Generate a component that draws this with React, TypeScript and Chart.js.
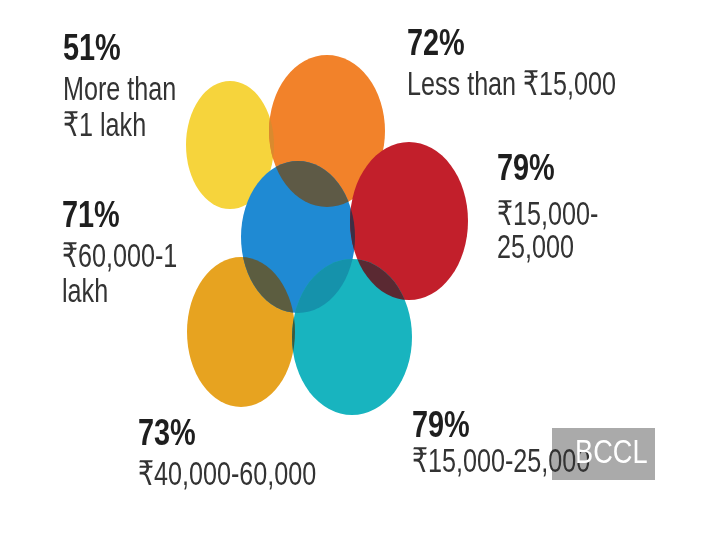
import React, { useEffect, useRef } from "react";
import { Chart, registerables } from "chart.js";

Chart.register(...registerables);

// ---- data ----
const categories = [
  "More than ₹1 lakh",
  "Less than ₹15,000",
  "₹15,000-25,000",
  "₹60,000-1 lakh",
  "₹40,000-60,000",
  "₹15,000-25,000",
];
const percentages = [51, 72, 79, 71, 73, 79];
const labelLines = [
  ["More than", "₹1 lakh"],
  ["Less than ₹15,000"],
  ["₹15,000-", "25,000"],
  ["₹60,000-1", "lakh"],
  ["₹40,000-60,000"],
  ["₹15,000-25,000"],
];
// ellipse geometry in chart units
const centerX = [230, 327, 409, 298, 241, 352];
const centerY = [145, 131, 221, 237, 332, 337];
const radiusX = [44, 58, 59, 57, 54, 60];
const radiusY = [64, 76, 79, 76, 75, 78];

// ---- styles / layout ----
const fillColors = ["#f6d43c", "#f2822a", "#c21f2b", "#1f8ad3", "#e7a320", "#18b4bf"];
const drawOrder = [0, 1, 4, 3, 2, 5];
const overlaps: [number, number, string][] = [
  [0, 1, "#d98a2e"],
  [3, 1, "#5e5a46"],
  [3, 4, "#5c5d40"],
  [3, 5, "#1592ab"],
  [2, 5, "#5a2932"],
  [3, 2, "#3e2f45"],
  [4, 5, "#3d5a3e"],
];
// label positions: x, baseline of percentage, baselines of the text lines
const labelX = [63, 407, 497, 62, 138, 412];
const labelPctY = [60, 55, 180, 227, 445, 437];
const labelLineY = [[100, 136], [95], [225, 258], [267, 302], [485], [472]];

const ellipsePlugin = {
  id: "ellipses",
  afterDatasetsDraw(chart: any) {
    const ctx: CanvasRenderingContext2D = chart.ctx;
    const xs = chart.scales.x;
    const ys = chart.scales.y;
    const geo = centerX.map((cx, i) => {
      const px = xs.getPixelForValue(cx);
      const py = ys.getPixelForValue(centerY[i]);
      const rx = Math.abs(xs.getPixelForValue(cx + radiusX[i]) - px);
      const ry = Math.abs(ys.getPixelForValue(centerY[i] + radiusY[i]) - py);
      return { px, py, rx, ry };
    });
    const path = (i: number) => {
      const g = geo[i];
      ctx.beginPath();
      ctx.ellipse(g.px, g.py, g.rx, g.ry, 0, 0, Math.PI * 2);
    };
    ctx.save();
    drawOrder.forEach((i) => {
      path(i);
      ctx.fillStyle = fillColors[i];
      ctx.fill();
    });
    overlaps.forEach(([a, b, col]) => {
      ctx.save();
      path(a);
      ctx.clip();
      path(b);
      ctx.fillStyle = col;
      ctx.fill();
      ctx.restore();
    });
    ctx.restore();

    // watermark box
    const bx0 = xs.getPixelForValue(552);
    const bx1 = xs.getPixelForValue(655);
    const by0 = ys.getPixelForValue(428);
    const by1 = ys.getPixelForValue(480);
    ctx.save();
    ctx.fillStyle = "#aaaaaa";
    ctx.fillRect(bx0, by0, bx1 - bx0, by1 - by0);
    ctx.restore();

    const drawText = (t: string, x: number, y: number, font: string, color: string, sx: number) => {
      ctx.save();
      ctx.translate(x, y);
      ctx.scale(sx, 1);
      ctx.font = font;
      ctx.fillStyle = color;
      ctx.textBaseline = "alphabetic";
      ctx.textAlign = "left";
      ctx.fillText(t, 0, 0);
      ctx.restore();
    };

    percentages.forEach((p, i) => {
      const x = xs.getPixelForValue(labelX[i]);
      drawText(p + "%", x, ys.getPixelForValue(labelPctY[i]), "bold 37px 'Liberation Sans', Arial, sans-serif", "#1e1e1e", 0.78);
      labelLines[i].forEach((line, k) => {
        drawText(line, x, ys.getPixelForValue(labelLineY[i][k]), "34px 'Liberation Sans', 'DejaVu Sans', sans-serif", "#333333", 0.74);
      });
    });

    drawText("BCCL", xs.getPixelForValue(575), ys.getPixelForValue(463), "34px 'Liberation Sans', Arial, sans-serif", "#ffffff", 0.8);
  },
};

export default function App() {
  const ref = useRef<HTMLCanvasElement | null>(null);
  useEffect(() => {
    if (!ref.current) return;
    const chart = new Chart(ref.current, {
      type: "scatter",
      data: {
        datasets: [
          {
            label: "Share",
            data: centerX.map((x, i) => ({ x, y: centerY[i], category: categories[i] })) as any,
            pointRadius: 0,
            pointHoverRadius: 0,
            backgroundColor: fillColors,
          },
        ],
      },
      options: {
        animation: false,
        responsive: false,
        maintainAspectRatio: false,
        layout: { padding: 0 },
        plugins: { legend: { display: false }, tooltip: { enabled: false } },
        scales: {
          x: { type: "linear", min: 0, max: 720, display: false },
          y: { type: "linear", min: 0, max: 541, reverse: true, display: false },
        },
      },
      plugins: [ellipsePlugin],
    });
    return () => chart.destroy();
  }, []);
  return (
    <div style={{ position: "absolute", left: 0, top: 0, width: 720, height: 541, background: "#ffffff" }}>
      <canvas ref={ref} width={720} height={541} style={{ display: "block" }} />
    </div>
  );
}
